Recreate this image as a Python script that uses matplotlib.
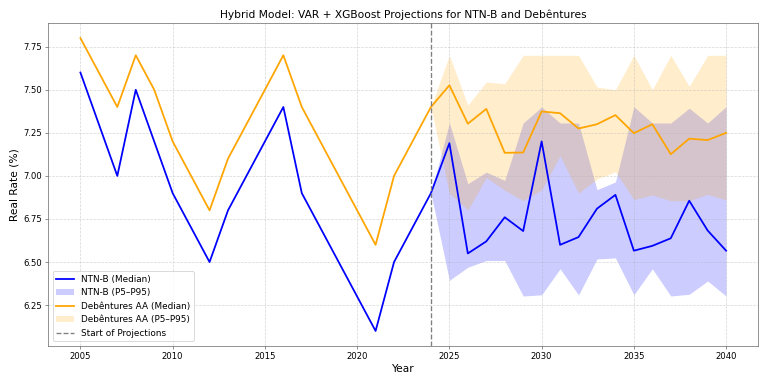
import matplotlib
matplotlib.use("Agg")
import matplotlib.pyplot as plt
import numpy as np

# historical series
hist_years = list(range(2005, 2025))
ntnb_hist = [7.6, 7.3, 7.0, 7.5, 7.2, 6.9, 6.7, 6.5, 6.8, 7.0,
             7.2, 7.4, 6.9, 6.7, 6.5, 6.3, 6.1, 6.5, 6.7, 6.9]
deb_hist = [7.8, 7.6, 7.4, 7.7, 7.5, 7.2, 7.0, 6.8, 7.1, 7.3,
            7.5, 7.7, 7.4, 7.2, 7.0, 6.8, 6.6, 7.0, 7.2, 7.4]

# projections (2024 = last observed value)
proj_years = list(range(2024, 2041))
ntnb_med = [6.9, 7.19, 6.55, 6.62, 6.76, 6.68, 7.20, 6.60, 6.645, 6.81,
            6.89, 6.566, 6.594, 6.638, 6.856, 6.683, 6.566]
ntnb_p5 = [6.9, 6.394, 6.47, 6.509, 6.509, 6.303, 6.31, 6.461, 6.309, 6.518,
           6.524, 6.31, 6.461, 6.303, 6.313, 6.39, 6.303]
ntnb_p95 = [6.9, 7.307, 6.955, 7.022, 6.974, 7.307, 7.40, 7.307, 7.307, 6.92,
            6.965, 7.402, 7.307, 7.307, 7.393, 7.307, 7.402]
deb_med = [7.4, 7.526, 7.303, 7.389, 7.134, 7.136, 7.374, 7.364, 7.275, 7.30,
           7.353, 7.248, 7.30, 7.126, 7.216, 7.208, 7.25]
deb_p5 = [7.4, 6.898, 6.803, 6.99, 6.917, 6.856, 6.92, 7.117, 6.90, 6.982,
          7.024, 6.863, 6.889, 6.856, 6.856, 6.893, 6.86]
deb_p95 = [7.4, 7.70, 7.41, 7.545, 7.535, 7.70, 7.70, 7.70, 7.70, 7.516,
           7.50, 7.70, 7.50, 7.70, 7.52, 7.70, 7.70]

plt.figure(figsize=(12, 6), dpi=64)
ax = plt.gca()

ax.plot(hist_years + proj_years[1:], ntnb_hist + ntnb_med[1:], color="blue",
        linewidth=2, label="NTN-B (Median)")
ax.fill_between(proj_years, ntnb_p5, ntnb_p95, color="blue", alpha=0.2,
                linewidth=0, label="NTN-B (P5–P95)")
ax.plot(hist_years + proj_years[1:], deb_hist + deb_med[1:], color="orange",
        linewidth=2, label="Debêntures AA (Median)")
ax.fill_between(proj_years, deb_p5, deb_p95, color="orange", alpha=0.2,
                linewidth=0, label="Debêntures AA (P5–P95)")
ax.axvline(2024, color="gray", linestyle="--", label="Start of Projections")

ax.set_title("Hybrid Model: VAR + XGBoost Projections for NTN-B and Debêntures",
             fontsize=12)
ax.set_xlabel("Year", fontsize=12)
ax.set_ylabel("Real Rate (%)", fontsize=12)
ax.grid(True, linestyle="--", alpha=0.5)
for sp in ax.spines.values():
    sp.set_color("dimgray")
ax.tick_params(color="dimgray", labelsize=9.5)
ax.legend(loc="lower left")

plt.tight_layout()
plt.savefig("out.png")
